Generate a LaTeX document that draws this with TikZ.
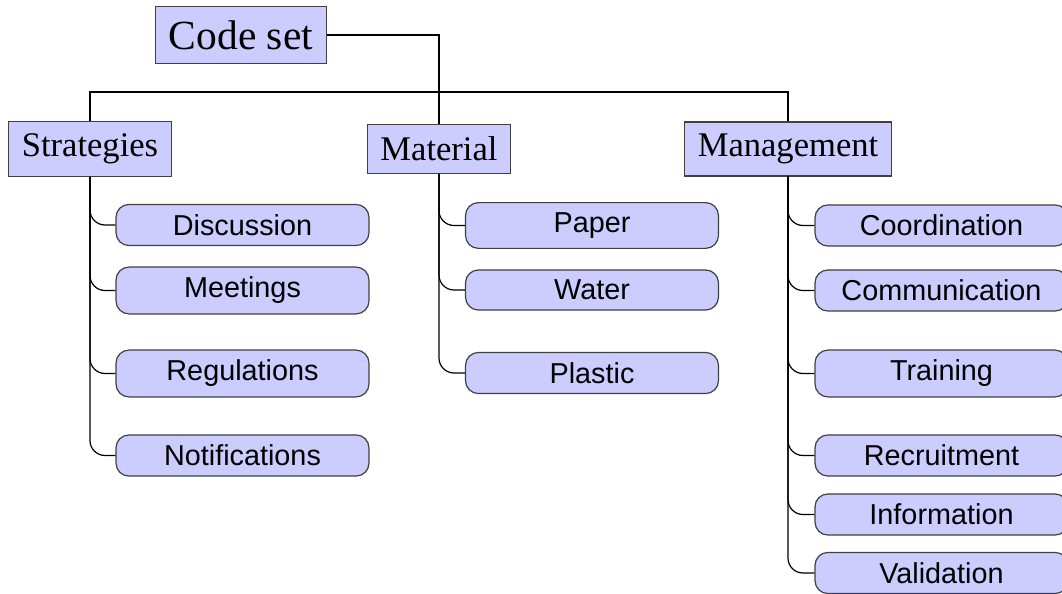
\documentclass[tikz,border=0pt]{standalone}
\usepackage{fontspec}
\setmainfont{Liberation Serif}
\setsansfont{Liberation Sans}
\definecolor{boxfill}{HTML}{CCCCFF}
\definecolor{boxline}{HTML}{404040}
\begin{document}
\begin{tikzpicture}[x=0.5pt,y=-0.5pt,
  rootbox/.style={draw=boxline,fill=boxfill,line width=0.6pt,inner sep=6.8pt,
    font=\fontsize{20.74}{24}\selectfont},
  groupbox/.style={draw=boxline,fill=boxfill,line width=0.6pt,inner xsep=6.5pt,inner ysep=6pt,
    font=\fontsize{17.28}{20}\selectfont},
  leafbox/.style={draw=boxline,fill=boxfill,line width=0.6pt,rounded corners=6.5pt,
    minimum width=126.5pt,inner ysep=5pt,font=\sffamily\fontsize{14.4}{17}\selectfont},
  link/.style={draw=black,line width=0.6pt},
  branch/.style={link,rounded corners=7.5pt}]
\useasboundingbox (0,0) rectangle (1062,594);

% root and first level
\node[rootbox] (root) at (241,35) {Code set};
\node[groupbox] (strat) at (90,149) {Strategies};
\node[groupbox] (mat) at (439,149) {Material};
\node[groupbox] (mgmt) at (788,149) {Management};
\coordinate (bus) at (439,92);

\draw[link] (root.east) -| (bus) -| (strat.north);
\draw[link] (root.east) -| (mat.north);
\draw[link] (bus) -| (mgmt.north);

% Strategies
\node[leafbox] (s1) at (242.5,225) {Discussion};
\node[leafbox] (s2) at (242.5,290.5) {Meetings};
\node[leafbox] (s3) at (242.5,373.5) {Regulations};
\node[leafbox] (s4) at (242.5,455.5) {Notifications};
\foreach \n in {s1,s2,s3,s4} \draw[branch] (strat.south) |- (\n.west);

% Material
\node[leafbox] (m1) at (592,225.5) {Paper};
\node[leafbox] (m2) at (592,290) {Water};
\node[leafbox] (m3) at (592,373) {Plastic};
\foreach \n in {m1,m2,m3} \draw[branch] (mat.south) |- (\n.west);

% Management
\node[leafbox] (g1) at (941.5,225.5) {Coordination};
\node[leafbox] (g2) at (941.5,290.5) {Communication};
\node[leafbox] (g3) at (941.5,373.5) {Training};
\node[leafbox] (g4) at (941.5,455.5) {Recruitment};
\node[leafbox] (g5) at (941.5,514.5) {Information};
\node[leafbox] (g6) at (941.5,573) {Validation};
\foreach \n in {g1,g2,g3,g4,g5,g6} \draw[branch] (mgmt.south) |- (\n.west);
\end{tikzpicture}
\end{document}
